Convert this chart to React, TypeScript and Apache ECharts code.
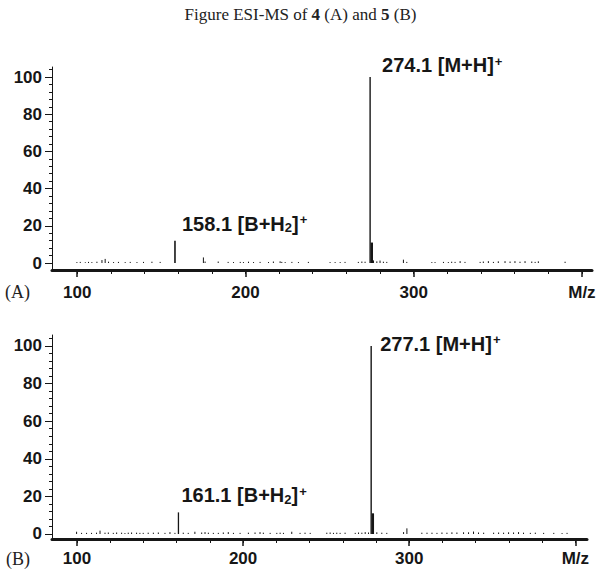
import React, { useEffect, useRef } from 'react';
import * as echarts from 'echarts';

// ---------- data ----------
const xMajorTicks = [100, 200, 300, 400];
const xMinorTicks = [100, 120, 140, 160, 180, 200, 220, 240, 260, 280, 300, 320, 340, 360, 380, 400];
const yMajorTicks = [0, 20, 40, 60, 80, 100];
const yMinorTicks = [0, 4, 8, 12, 16, 20, 24, 28, 32, 36, 40, 44, 48, 52, 56, 60, 64, 68, 72, 76, 80, 84, 88, 92, 96, 100, 104];

// Spectrum A (compound 4): [m/z, relative intensity, stroke width]
const peaksA = [
  [158.1, 12, 1.6],
  [274.1, 100, 1.4],
  [275.1, 11, 2.4],
];
const noiseA = [
  [99.8, 0.5], [101.8, 0.6], [104.8, 0.4], [106.7, 0.6], [108.7, 0.5], [111.7, 0.7], [114.7, 1.6], [116.6, 2.2],
  [118.6, 0.7], [121.6, 0.5], [124.5, 0.6], [128.5, 0.5], [131.5, 0.6], [135.5, 0.5], [139.4, 0.6], [144.4, 0.7],
  [149.3, 0.6], [175.0, 3.0], [176.0, 0.8], [183.8, 0.8], [189.7, 0.6], [192.9, 0.5], [196.9, 0.6], [198.8, 0.5],
  [201.8, 0.7], [204.8, 0.5], [208.7, 0.6], [213.7, 0.5], [216.6, 0.8], [220.6, 0.9], [221.6, 0.6], [223.6, 0.5],
  [227.6, 0.6], [231.5, 0.5], [237.4, 0.6], [250.3, 0.5], [253.3, 0.5], [256.3, 0.5], [259.2, 0.6], [267.1, 0.6],
  [269.2, 0.8], [271.1, 0.7], [276.1, 1.4], [278.1, 0.9], [280.0, 1.3], [282.0, 0.7], [284.0, 0.6], [293.9, 1.8],
  [295.9, 0.6], [310.8, 0.5], [312.7, 0.5], [317.7, 0.6], [320.6, 0.5], [322.6, 0.7], [324.6, 0.6], [327.6, 1.0],
  [330.5, 0.6], [339.5, 0.6], [341.4, 0.8], [344.4, 1.0], [347.4, 0.6], [350.3, 0.9], [354.3, 1.0], [357.3, 0.8],
  [360.2, 1.0], [363.2, 0.7], [366.2, 1.0], [370.2, 0.8], [372.2, 0.6], [374.1, 0.9], [390.0, 0.7],
];

// Spectrum B (compound 5)
const peaksB = [
  [161.1, 11.5, 1.3],
  [277.1, 100, 1.4],
  [278.1, 11, 2.4],
];
const noiseB = [
  [99.8, 1.2], [102.8, 0.6], [105.8, 0.6], [108.8, 0.6], [111.8, 0.7], [113.9, 1.8], [116.9, 0.7], [118.9, 0.8],
  [121.9, 0.6], [123.9, 0.8], [126.9, 0.7], [128.9, 0.5], [130.9, 0.7], [132.9, 0.8], [135.9, 0.7], [137.9, 0.6],
  [139.9, 0.6], [142.9, 0.7], [146.0, 0.7], [149.0, 0.8], [153.0, 0.6], [156.0, 1.0], [159.0, 0.6], [164.0, 0.7],
  [167.0, 0.6], [171.0, 1.2], [175.1, 0.8], [177.1, 1.0], [179.1, 0.7], [182.1, 0.6], [185.1, 0.6], [188.1, 0.8],
  [191.1, 1.0], [194.2, 0.6], [198.2, 0.6], [203.2, 0.7], [207.2, 0.8], [210.2, 1.0], [212.2, 0.7], [216.3, 0.6],
  [220.3, 0.6], [222.3, 0.7], [224.3, 0.6], [229.3, 1.2], [234.3, 0.6], [237.3, 0.7], [240.4, 0.6], [250.4, 0.7],
  [252.4, 0.8], [254.4, 0.6], [256.4, 0.7], [258.4, 0.6], [261.4, 0.7], [267.5, 0.6], [269.5, 0.8], [271.5, 0.7],
  [273.5, 1.0], [275.5, 0.8], [280.5, 0.9], [283.5, 0.7], [286.5, 0.6], [296.6, 1.0], [298.6, 3.0], [307.6, 0.7],
  [310.7, 0.7], [313.7, 0.7], [316.7, 0.6], [319.7, 0.8], [322.7, 0.7], [325.7, 0.9], [328.7, 0.8], [332.7, 0.9],
  [335.7, 0.9], [338.7, 1.3], [341.7, 0.8], [344.8, 0.7], [350.8, 0.7], [353.8, 0.8], [356.8, 0.7], [359.8, 0.9],
  [362.8, 0.8], [365.8, 1.0], [368.8, 0.7], [372.9, 0.6], [375.9, 0.7], [380.9, 0.6], [387.0, 0.6], [392.0, 0.5],
  [395.0, 0.6],
];

// annotations: anchor peak [m/z, intensity] and label text ({sub|..} / {sup|..} mark sub/superscripts)
const annotA = [[158.1, 12], [274.1, 100]];
const annotB = [[161.1, 11.5], [277.1, 100]];
const annotTextA = ['158.1 [B+H{sub|2}]{sup|+}', '274.1 [M+H]{sup|+}'];
const annotTextB = ['161.1 [B+H{sub|2}]{sup|+}', '277.1 [M+H]{sup|+}'];

// ---------- styling ----------
const INK = '#161616';
const SANS = '"Liberation Sans", Arial, sans-serif';
const SERIF = '"Liberation Serif", "Times New Roman", serif';
const annotOffsetsA = [[7, -17], [12, -12]];
const annotOffsetsB = [[3, -17], [9, -2]];

const richLabel = {
  t: { fontFamily: SANS, fontSize: 20, fontWeight: 'bold', color: INK, lineHeight: 21, padding: [3, 0, 3, 0] },
  sub: { fontFamily: SANS, fontSize: 13, fontWeight: 'bold', color: INK, lineHeight: 13, verticalAlign: 'bottom' },
  sup: { fontFamily: SANS, fontSize: 13, fontWeight: 'bold', color: INK, lineHeight: 13, verticalAlign: 'top', padding: [0, 0, 0, 1] },
};

function stickSeries(data: number[][], gi: number, defaultWidth: number) {
  return {
    type: 'custom',
    xAxisIndex: gi * 2,
    yAxisIndex: gi * 2,
    data,
    clip: false,
    renderItem: (params: any, api: any) => {
      const x = api.value(0);
      const y = api.value(1);
      const w = data[params.dataIndex][2] || defaultWidth;
      const p0 = api.coord([x, 0]);
      const p1 = api.coord([x, y]);
      return {
        type: 'line',
        shape: { x1: p0[0], y1: p0[1], x2: p1[0], y2: p1[1] },
        style: { stroke: INK, lineWidth: w },
      };
    },
  };
}

function buildText(s: string) {
  const parts: string[] = [];
  const re = /\{(sub|sup)\|([^}]*)\}/g;
  let last = 0;
  let m: RegExpExecArray | null;
  while ((m = re.exec(s))) {
    if (m.index > last) parts.push('{t|' + s.slice(last, m.index) + '}');
    parts.push('{' + m[1] + '|' + m[2] + '}');
    last = m.index + m[0].length;
  }
  if (last < s.length) parts.push('{t|' + s.slice(last) + '}');
  return parts.join('');
}

function annotSeries(data: number[][], texts: string[], offsets: number[][], gi: number) {
  return {
    type: 'custom',
    xAxisIndex: gi * 2,
    yAxisIndex: gi * 2,
    data,
    clip: false,
    renderItem: (params: any, api: any) => {
      const p = api.coord([api.value(0), api.value(1)]);
      const off = offsets[params.dataIndex];
      return {
        type: 'text',
        x: p[0] + off[0],
        y: p[1] + off[1],
        style: {
          text: buildText(texts[params.dataIndex]),
          rich: richLabel,
          verticalAlign: 'middle',
          align: 'left',
          fill: INK,
        },
      };
    },
  };
}

function xAxes(gi: number, min: number, max: number, margin: number) {
  return [
    {
      type: 'value', gridIndex: gi, min, max, position: 'bottom',
      axisLine: { show: true, onZero: false, lineStyle: { color: INK, width: 3 } },
      axisTick: { show: true, customValues: xMajorTicks, length: 7, lineStyle: { color: INK, width: 1.5 } },
      axisLabel: {
        show: true, customValues: xMajorTicks, margin,
        formatter: (v: number) => (v === 400 ? 'M/z' : String(v)),
        fontFamily: SANS, fontWeight: 'bold', fontSize: 17, color: INK,
      },
      splitLine: { show: false },
    },
    {
      type: 'value', gridIndex: gi, min, max, position: 'bottom',
      axisLine: { show: false, onZero: false },
      axisTick: { show: true, customValues: xMinorTicks, length: 4, lineStyle: { color: INK, width: 1 } },
      axisLabel: { show: false },
      splitLine: { show: false },
    },
  ];
}

function yAxes(gi: number, min: number, max: number) {
  return [
    {
      type: 'value', gridIndex: gi, min, max, position: 'left',
      axisLine: { show: true, onZero: false, lineStyle: { color: INK, width: 1 } },
      axisTick: { show: true, customValues: yMajorTicks, length: 7, lineStyle: { color: INK, width: 1 } },
      axisLabel: {
        show: true, customValues: yMajorTicks, margin: 10,
        fontFamily: SANS, fontWeight: 'bold', fontSize: 17, color: INK,
      },
      splitLine: { show: false },
    },
    {
      type: 'value', gridIndex: gi, min, max, position: 'left',
      axisLine: { show: false, onZero: false },
      axisTick: { show: true, customValues: yMinorTicks, length: 3, lineStyle: { color: INK, width: 1 } },
      axisLabel: { show: false },
      splitLine: { show: false },
    },
  ];
}

export default function App() {
  const ref = useRef<HTMLDivElement>(null);
  useEffect(() => {
    if (!ref.current) return;
    const chart = echarts.init(ref.current, undefined, { renderer: 'svg' });
    const noiseAW = noiseA.map((d) => [d[0], d[1], 1]);
    const noiseBW = noiseB.map((d) => [d[0], d[1], 1]);
    chart.setOption({
      animation: false,
      backgroundColor: '#ffffff',
      title: {
        text: 'Figure ESI-MS of {b|4} (A) and {b|5} (B)',
        left: 'center',
        top: 1,
        textStyle: {
          fontFamily: SERIF, fontSize: 17, fontWeight: 'normal', color: '#222',
          rich: { b: { fontFamily: SERIF, fontSize: 17, fontWeight: 'bold', color: '#222' } },
        },
      },
      grid: [
        { left: 52, right: 9, top: 67, height: 203 },
        { left: 52, right: 14, top: 335, height: 204 },
      ],
      xAxis: [...xAxes(0, 85, 406, 14), ...xAxes(1, 85, 407, 11)],
      yAxis: [...yAxes(0, -3.76, 105.4), ...yAxes(1, -2.66, 105.85)],
      graphic: [
        { type: 'text', left: 5, top: 283, style: { text: '(A)', font: '18px ' + SERIF, fill: '#222' } },
        { type: 'text', left: 6, top: 550, style: { text: '(B)', font: '18px ' + SERIF, fill: '#222' } },
      ],
      series: [
        stickSeries(noiseAW, 0, 1),
        stickSeries(peaksA, 0, 1.5),
        annotSeries(annotA, annotTextA, annotOffsetsA, 0),
        stickSeries(noiseBW, 1, 1),
        stickSeries(peaksB, 1, 1.5),
        annotSeries(annotB, annotTextB, annotOffsetsB, 1),
      ],
    });
    return () => chart.dispose();
  }, []);
  return <div ref={ref} style={{ position: 'fixed', left: 0, top: 0, width: 601, height: 572 }} />;
}
